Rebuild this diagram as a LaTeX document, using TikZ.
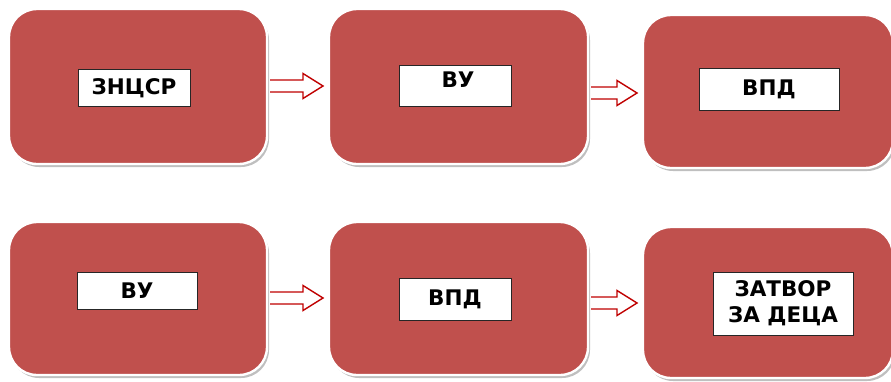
\documentclass[tikz,border=0pt]{standalone}
\usepackage{fontspec}
\setmainfont{DejaVu Sans}
\begin{document}
\begin{tikzpicture}[x=1pt,y=-1pt,
  card/.style={fill=cardred,draw=white,line width=2.4pt,rounded corners=28pt},
  cardshadow/.style={fill=black!25,rounded corners=28pt},
  lbl/.style={draw=black!85,fill=white,line width=0.9pt,inner sep=0pt,font=\bfseries\fontsize{21.5}{24}\selectfont,align=center},
  arr/.style={draw=arrred,line width=1.4pt,fill=white,line join=miter}]
\definecolor{cardred}{HTML}{C0504D}
\definecolor{arrred}{HTML}{C00000}
\useasboundingbox (0,0) rectangle (891,381);
% cards
\foreach \xa/\ya/\xb/\yb/\n in {9/9/267/164/c1, 329/9/588/164/c2, 643/15/893/168/c3, 9/222/267/375/c4, 329/222/588/375/c5, 643/227/893/378/c6}{
  \fill[cardshadow] (\xa+2,\ya+3) rectangle (\xb+2,\yb+3);
  \draw[card] (\xa,\ya) rectangle (\xb,\yb);
  \coordinate (\n) at (\xa,\ya);
}
% labels
\node[lbl,minimum width=112pt,minimum height=37pt] (l1) at (134,88) {ЗНЦСР};
\node[lbl,minimum width=112pt,minimum height=41pt] (l2) at (455,85.5) {};
\node[font=\bfseries\fontsize{21.5}{24}\selectfont] (t2) at (458,79.5) {ВУ};
\node[lbl,minimum width=140pt,minimum height=42pt] (l3) at (769,89) {ВПД};
\node[lbl,minimum width=120pt,minimum height=37pt] (l4) at (137,290.5) {ВУ};
\node[lbl,minimum width=112pt,minimum height=42pt] (l5) at (455,299) {ВПД};
\node[lbl,minimum width=140pt,minimum height=63pt,font=\bfseries\fontsize{21.5}{26}\selectfont] (l6) at (783,303.5) {ЗАТВОР\\ЗА ДЕЦА};
% arrows
\foreach \xa/\xh/\xt/\yc in {270/303/323/86, 591/617/637/93, 270/303/323/298, 591/617/637/303}{
  \draw[arr] (\xa,\yc-6) -- (\xh,\yc-6) -- (\xh,\yc-12.5) -- (\xt,\yc) -- (\xh,\yc+12.5) -- (\xh,\yc+6) -- (\xa,\yc+6);
}
\end{tikzpicture}
\end{document}
